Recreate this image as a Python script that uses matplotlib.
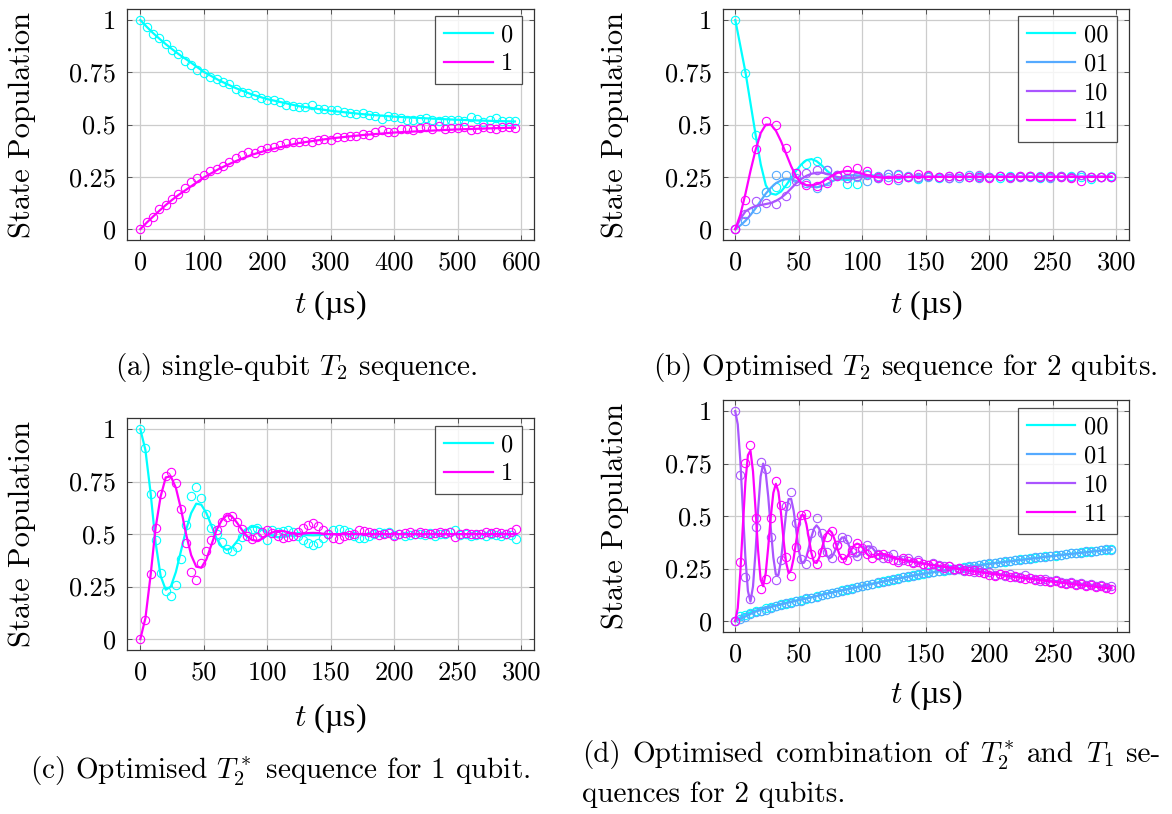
import numpy as np
import matplotlib
matplotlib.use("Agg")
import matplotlib.pyplot as plt

plt.rcParams['font.family'] = ['cmr10', 'Liberation Serif']
plt.rcParams['mathtext.fontset'] = 'cm'
plt.rcParams['axes.formatter.use_mathtext'] = True

# ── panel (a): single-qubit T2 ─────────────────────────────────
a_t = np.arange(0, 600, 10)
a_p0 = [1.0, 0.965, 0.935, 0.912, 0.886, 0.858, 0.836, 0.806, 0.787, 0.763,
        0.748, 0.727, 0.716, 0.703, 0.692, 0.668, 0.657, 0.650, 0.641, 0.628,
        0.620, 0.617, 0.607, 0.596, 0.588, 0.585, 0.584, 0.592, 0.577, 0.574,
        0.571, 0.568, 0.560, 0.556, 0.553, 0.554, 0.548, 0.540, 0.529, 0.542,
        0.538, 0.530, 0.522, 0.523, 0.526, 0.530, 0.520, 0.519, 0.524, 0.521,
        0.522, 0.515, 0.535, 0.525, 0.513, 0.523, 0.530, 0.519, 0.518, 0.517]
a_p1 = [0.0, 0.032, 0.060, 0.095, 0.116, 0.146, 0.170, 0.198, 0.226, 0.243,
        0.258, 0.279, 0.289, 0.302, 0.322, 0.341, 0.355, 0.367, 0.362, 0.378,
        0.386, 0.394, 0.402, 0.410, 0.418, 0.417, 0.421, 0.415, 0.428, 0.433,
        0.426, 0.441, 0.443, 0.447, 0.446, 0.455, 0.452, 0.466, 0.472, 0.463,
        0.463, 0.477, 0.479, 0.476, 0.484, 0.488, 0.481, 0.492, 0.479, 0.484,
        0.486, 0.490, 0.472, 0.480, 0.490, 0.486, 0.477, 0.488, 0.487, 0.484]
a_fit_t = [0, 10, 20, 30, 40, 50, 60, 80, 100, 125, 150, 175, 200, 250, 300,
           350, 400, 450, 500, 550, 590]
a_fit0 = [1.0, 0.968, 0.938, 0.911, 0.885, 0.861, 0.838, 0.796, 0.752, 0.71,
          0.675, 0.645, 0.622, 0.588, 0.566, 0.55, 0.538, 0.53, 0.523, 0.518, 0.515]
a_fit1 = [0.0, 0.031, 0.06, 0.088, 0.115, 0.14, 0.163, 0.205, 0.247, 0.29,
          0.325, 0.355, 0.378, 0.412, 0.434, 0.45, 0.462, 0.47, 0.477, 0.482, 0.485]

# ── panel (b): optimised T2, 2 qubits ──────────────────────────
b_t = np.arange(0, 300, 8)
b_p00 = [1.0, 0.748, 0.45, 0.18, 0.2, 0.22, 0.268, 0.31, 0.325, 0.284,
         0.252, 0.216, 0.216, 0.262, 0.245, 0.262, 0.258, 0.248, 0.242, 0.255,
         0.245, 0.243, 0.252, 0.25, 0.256, 0.248, 0.245, 0.253, 0.25, 0.256,
         0.244, 0.252, 0.25, 0.255, 0.248, 0.24, 0.25, 0.254]
b_p01 = [0.0, 0.037, 0.097, 0.18, 0.257, 0.257, 0.244, 0.22, 0.197, 0.23,
         0.26, 0.244, 0.25, 0.232, 0.255, 0.248, 0.235, 0.252, 0.245, 0.25,
         0.248, 0.255, 0.245, 0.258, 0.246, 0.25, 0.253, 0.247, 0.252, 0.248,
         0.255, 0.246, 0.252, 0.25, 0.258, 0.248, 0.251, 0.247]
b_p10 = [0.0, 0.07, 0.135, 0.125, 0.12, 0.16, 0.228, 0.268, 0.281, 0.281,
         0.257, 0.245, 0.255, 0.26, 0.245, 0.262, 0.265, 0.25, 0.248, 0.255,
         0.25, 0.245, 0.252, 0.25, 0.258, 0.248, 0.252, 0.245, 0.25, 0.255,
         0.25, 0.247, 0.252, 0.25, 0.26, 0.25, 0.248, 0.25]
b_p11 = [0.0, 0.14, 0.385, 0.516, 0.497, 0.388, 0.268, 0.212, 0.204, 0.22,
         0.252, 0.284, 0.292, 0.276, 0.248, 0.236, 0.244, 0.25, 0.262, 0.26,
         0.248, 0.255, 0.252, 0.248, 0.25, 0.245, 0.255, 0.25, 0.252, 0.256,
         0.248, 0.252, 0.25, 0.245, 0.232, 0.25, 0.248, 0.25]
b_fit_t = list(range(0, 128, 4)) + [140, 296]
b_fit00 = [1.0, 0.875, 0.75, 0.6, 0.45, 0.31, 0.21, 0.17, 0.165, 0.18,
           0.21, 0.245, 0.28, 0.31, 0.33, 0.335, 0.325, 0.305, 0.28, 0.26,
           0.245, 0.237, 0.236, 0.24, 0.248, 0.254, 0.257, 0.257, 0.254, 0.251,
           0.249, 0.248, 0.25, 0.25]
b_fit01 = [0.0, 0.018, 0.04, 0.068, 0.1, 0.135, 0.17, 0.198, 0.22, 0.233,
           0.24, 0.238, 0.23, 0.22, 0.21, 0.203, 0.2, 0.205, 0.215, 0.228,
           0.24, 0.25, 0.256, 0.258, 0.257, 0.255, 0.253, 0.251, 0.25, 0.249,
           0.249, 0.25, 0.25, 0.25]
b_fit10 = [0.0, 0.05, 0.085, 0.1, 0.11, 0.115, 0.12, 0.125, 0.135, 0.15,
           0.17, 0.195, 0.22, 0.24, 0.255, 0.265, 0.27, 0.27, 0.265, 0.258,
           0.25, 0.246, 0.244, 0.245, 0.247, 0.25, 0.252, 0.252, 0.251, 0.25,
           0.25, 0.25, 0.25, 0.25]
b_fit11 = [0.0, 0.07, 0.17, 0.28, 0.38, 0.46, 0.5, 0.5, 0.47, 0.42,
           0.36, 0.3, 0.25, 0.22, 0.21, 0.21, 0.215, 0.225, 0.24, 0.255,
           0.268, 0.275, 0.278, 0.277, 0.272, 0.265, 0.258, 0.252, 0.248, 0.246,
           0.246, 0.247, 0.25, 0.25]

# ── panel (c): optimised T2*, 1 qubit ──────────────────────────
c_t = np.arange(0, 300, 4)
c_p0 = [1.0, 0.91, 0.69, 0.47, 0.315, 0.227, 0.203, 0.258, 0.38, 0.545,
        0.683, 0.726, 0.67, 0.594, 0.527, 0.5, 0.463, 0.428, 0.42, 0.44,
        0.487, 0.51, 0.525, 0.53, 0.505, 0.47, 0.52, 0.51, 0.515, 0.52,
        0.51, 0.49, 0.47, 0.46, 0.45, 0.46, 0.48, 0.5, 0.52, 0.525,
        0.52, 0.51, 0.49, 0.48, 0.48, 0.49, 0.5, 0.51, 0.505, 0.51,
        0.495, 0.5, 0.49, 0.495, 0.5, 0.5, 0.495, 0.505, 0.49, 0.5,
        0.5, 0.51, 0.52, 0.495, 0.5, 0.49, 0.495, 0.5, 0.49, 0.5,
        0.495, 0.49, 0.5, 0.495, 0.475]
c_p1 = [0.0, 0.09, 0.31, 0.53, 0.69, 0.775, 0.795, 0.745, 0.62, 0.46,
        0.32, 0.28, 0.36, 0.42, 0.47, 0.52, 0.56, 0.58, 0.585, 0.56,
        0.525, 0.49, 0.475, 0.485, 0.51, 0.52, 0.505, 0.49, 0.48, 0.485,
        0.49, 0.51, 0.53, 0.545, 0.555, 0.54, 0.52, 0.5, 0.48, 0.475,
        0.49, 0.495, 0.5, 0.52, 0.515, 0.51, 0.505, 0.495, 0.5, 0.505,
        0.49, 0.5, 0.505, 0.51, 0.5, 0.51, 0.505, 0.5, 0.505, 0.51,
        0.505, 0.51, 0.485, 0.5, 0.505, 0.5, 0.5, 0.5, 0.51, 0.505,
        0.51, 0.505, 0.5, 0.51, 0.525]
c_fit_t = list(range(0, 152, 4)) + [160, 296]
c_fit0 = [1.0, 0.9, 0.7, 0.46, 0.3, 0.235, 0.25, 0.32, 0.42, 0.52,
          0.6, 0.645, 0.64, 0.6, 0.54, 0.48, 0.44, 0.425, 0.435, 0.465,
          0.5, 0.525, 0.535, 0.535, 0.52, 0.505, 0.492, 0.485, 0.485, 0.49,
          0.497, 0.5, 0.498, 0.495, 0.494, 0.495, 0.498, 0.5, 0.5, 0.5]
c_fit1 = [0.0, 0.1, 0.3, 0.53, 0.68, 0.77, 0.775, 0.72, 0.62, 0.5,
          0.4, 0.345, 0.34, 0.38, 0.45, 0.52, 0.565, 0.59, 0.585, 0.555,
          0.52, 0.49, 0.472, 0.468, 0.478, 0.495, 0.508, 0.515, 0.515, 0.51,
          0.503, 0.5, 0.502, 0.505, 0.506, 0.505, 0.502, 0.5, 0.5, 0.5]

# ── panel (d): T2* + T1, 2 qubits ──────────────────────────────
d_t = np.arange(0, 300, 4)
d_p00 = [0.0, 0.022, 0.03, 0.04, 0.046, 0.05, 0.062, 0.066, 0.07, 0.08,
         0.083, 0.09, 0.094, 0.102, 0.106, 0.112, 0.118, 0.122, 0.13, 0.134,
         0.14, 0.146, 0.15, 0.158, 0.16, 0.166, 0.172, 0.178, 0.182, 0.19,
         0.194, 0.198, 0.205, 0.208, 0.212, 0.218, 0.22, 0.226, 0.232, 0.234,
         0.238, 0.24, 0.246, 0.25, 0.25, 0.256, 0.258, 0.264, 0.266, 0.27,
         0.272, 0.278, 0.282, 0.282, 0.288, 0.29, 0.294, 0.295, 0.3, 0.302,
         0.304, 0.308, 0.31, 0.312, 0.316, 0.318, 0.322, 0.322, 0.328, 0.33,
         0.334, 0.334, 0.34, 0.338, 0.344]
d_p01 = [0.0, 0.008, 0.02, 0.032, 0.042, 0.05, 0.055, 0.064, 0.072, 0.075,
         0.085, 0.088, 0.096, 0.098, 0.108, 0.11, 0.116, 0.125, 0.128, 0.132,
         0.138, 0.144, 0.152, 0.155, 0.162, 0.168, 0.17, 0.176, 0.184, 0.188,
         0.192, 0.2, 0.202, 0.21, 0.214, 0.216, 0.224, 0.228, 0.23, 0.236,
         0.24, 0.244, 0.244, 0.25, 0.254, 0.254, 0.26, 0.262, 0.268, 0.27,
         0.276, 0.276, 0.28, 0.286, 0.286, 0.29, 0.292, 0.298, 0.298, 0.304,
         0.306, 0.306, 0.312, 0.314, 0.314, 0.32, 0.324, 0.326, 0.326, 0.332,
         0.33, 0.336, 0.338, 0.342, 0.34]
d_p10 = [1.0, 0.694, 0.208, 0.103, 0.448, 0.76, 0.725, 0.40, 0.195, 0.293,
         0.547, 0.615, 0.465, 0.298, 0.27, 0.42, 0.49, 0.42, 0.33, 0.3,
         0.36, 0.4, 0.39, 0.33, 0.31, 0.34, 0.36, 0.34, 0.32, 0.3,
         0.31, 0.32, 0.29, 0.29, 0.3, 0.28, 0.29, 0.27, 0.265, 0.275,
         0.265, 0.26, 0.26, 0.245, 0.25, 0.24, 0.25, 0.235, 0.245, 0.23,
         0.235, 0.22, 0.225, 0.215, 0.225, 0.21, 0.21, 0.22, 0.205, 0.2,
         0.19, 0.2, 0.19, 0.195, 0.185, 0.18, 0.185, 0.175, 0.18, 0.17,
         0.175, 0.165, 0.17, 0.16, 0.168]
d_p11 = [0.0, 0.282, 0.754, 0.837, 0.489, 0.155, 0.2, 0.489, 0.667, 0.552,
         0.306, 0.214, 0.353, 0.504, 0.509, 0.32, 0.27, 0.33, 0.4, 0.43,
         0.36, 0.3, 0.29, 0.34, 0.37, 0.35, 0.32, 0.3, 0.315, 0.32,
         0.3, 0.29, 0.28, 0.3, 0.285, 0.275, 0.28, 0.27, 0.265, 0.27,
         0.26, 0.255, 0.26, 0.25, 0.255, 0.245, 0.24, 0.245, 0.235, 0.23,
         0.22, 0.215, 0.225, 0.22, 0.21, 0.215, 0.205, 0.2, 0.205, 0.195,
         0.2, 0.19, 0.185, 0.19, 0.18, 0.175, 0.18, 0.17, 0.175, 0.165,
         0.17, 0.16, 0.165, 0.158, 0.152]
d_fit_lo_t = [0, 4, 8, 12, 16, 24, 32, 40, 50, 60, 75, 100, 125, 150, 175,
              200, 225, 250, 275, 296]
d_fit00 = [0.0, 0.018, 0.032, 0.042, 0.05, 0.064, 0.076, 0.088, 0.1, 0.114,
           0.136, 0.168, 0.2, 0.228, 0.252, 0.274, 0.293, 0.311, 0.328, 0.342]
d_fit01 = [0.0, 0.01, 0.022, 0.034, 0.045, 0.06, 0.073, 0.085, 0.1, 0.113,
           0.134, 0.167, 0.199, 0.227, 0.25, 0.272, 0.291, 0.31, 0.327, 0.341]
d_fit_hi_t = list(range(0, 116, 2)) + [118, 125, 150, 175, 200, 225, 250, 275, 296]
d_fit10 = [1.0, 0.937, 0.767, 0.534, 0.305, 0.143, 0.093, 0.165, 0.331, 0.53,
           0.689, 0.75, 0.707, 0.592, 0.442, 0.303, 0.221, 0.219, 0.288, 0.4,
           0.512, 0.581, 0.582, 0.525, 0.432, 0.339, 0.282, 0.278, 0.305, 0.352,
           0.402, 0.441, 0.456, 0.441, 0.401, 0.352, 0.313, 0.298, 0.306, 0.328,
           0.356, 0.382, 0.398, 0.398, 0.381, 0.353, 0.325, 0.308, 0.307, 0.316,
           0.331, 0.346, 0.356, 0.356, 0.348, 0.333, 0.318, 0.311,
           0.312, 0.3, 0.273, 0.251, 0.23, 0.21, 0.192, 0.176, 0.164]
d_fit11 = [0.0, 0.062, 0.23, 0.45, 0.66, 0.79, 0.812, 0.713, 0.532, 0.336,
           0.198, 0.166, 0.228, 0.354, 0.498, 0.611, 0.654, 0.616, 0.516, 0.389,
           0.28, 0.229, 0.243, 0.30, 0.381, 0.458, 0.504, 0.504, 0.461, 0.392,
           0.323, 0.28, 0.277, 0.301, 0.342, 0.386, 0.42, 0.433, 0.422, 0.392,
           0.353, 0.317, 0.296, 0.295, 0.306, 0.326, 0.347, 0.363, 0.369, 0.364,
           0.351, 0.333, 0.317, 0.307, 0.306, 0.31, 0.316, 0.321,
           0.318, 0.3, 0.271, 0.249, 0.226, 0.206, 0.187, 0.169, 0.155]

cool = plt.cm.cool(np.linspace(0, 1, 4))
C2 = [cool[0], cool[3]]

W, H = 1172, 814
fig = plt.figure(figsize=(W / 100, H / 100), dpi=100)


def px_axes(l, t, r, b):
    return fig.add_axes([l / W, 1 - b / H, (r - l) / W, (b - t) / H])


def style(ax, xlim, xticks, xlab_y, ylab_x):
    ax.set_xlim(*xlim)
    ax.set_ylim(-0.052, 1.053)
    ax.set_xticks(xticks)
    ax.set_xticklabels([str(x) for x in xticks])
    ax.set_yticks([0, 0.25, 0.5, 0.75, 1])
    ax.set_yticklabels(['0', '0.25', '0.5', '0.75', '1'])
    ax.grid(color='#cccccc', linewidth=0.9)
    ax.set_axisbelow(True)
    ax.tick_params(direction='in', top=True, right=True, length=3.5,
                   width=0.7, color='#555555', labelsize=19)
    ax.tick_params(axis='y', pad=8)
    ax.tick_params(axis='x', pad=8)
    for s in ax.spines.values():
        s.set_color('#333333')
        s.set_linewidth(0.9)
    ax.set_xlabel(r'$t$ (µs)', fontsize=23, family='Liberation Serif')
    ax.xaxis.label.set_va('center')
    ax.xaxis.set_label_coords(0.5, xlab_y)
    ax.set_ylabel('State Population', fontsize=22)
    ax.yaxis.label.set_va('center')
    ax.yaxis.set_label_coords(ylab_x, 0.5)


def series(ax, t, y, ft, fy, col, lab):
    ax.plot(ft, fy, color=col, lw=1.6, label=lab, zorder=3)
    ax.plot(t, y, 'o', ms=6, mfc='none', mec=col, mew=0.8, zorder=3)


def legend(ax, top):
    leg = ax.legend(loc='upper right', bbox_to_anchor=(0.97, top),
                    borderaxespad=0, fontsize=17.5, handlelength=2.0,
                    handletextpad=0.35, labelspacing=0.28, borderpad=0.35,
                    frameon=True, fancybox=False, edgecolor='#222222')
    leg.get_frame().set_linewidth(0.9)


# (a)
ax = px_axes(127, 9, 534, 240)
series(ax, a_t, a_p0, a_fit_t, a_fit0, C2[0], '0')
series(ax, a_t, a_p1, a_fit_t, a_fit1, C2[1], '1')
style(ax, (-21, 620), [0, 100, 200, 300, 400, 500, 600], -0.28, -0.258)
legend(ax, 0.97)

# (b)
ax = px_axes(723, 9, 1129, 240)
for y, fy, col, lab in [(b_p00, b_fit00, cool[0], '00'), (b_p01, b_fit01, cool[1], '01'),
                        (b_p10, b_fit10, cool[2], '10'), (b_p11, b_fit11, cool[3], '11')]:
    series(ax, b_t, y, b_fit_t, fy, col, lab)
style(ax, (-9.7, 309.9), [0, 50, 100, 150, 200, 250, 300], -0.28, -0.265)
legend(ax, 0.97)

# (c)
ax = px_axes(127, 418, 534, 650)
series(ax, c_t, c_p0, c_fit_t, c_fit0, C2[0], '0')
series(ax, c_t, c_p1, c_fit_t, c_fit1, C2[1], '1')
style(ax, (-10.5, 309.9), [0, 50, 100, 150, 200, 250, 300], -0.293, -0.258)
legend(ax, 0.966)

# (d)
ax = px_axes(723, 400, 1129, 632)
series(ax, d_t, d_p00, d_fit_lo_t, d_fit00, cool[0], '00')
series(ax, d_t, d_p01, d_fit_lo_t, d_fit01, cool[1], '01')
series(ax, d_t, d_p10, d_fit_hi_t, d_fit10, cool[2], '10')
series(ax, d_t, d_p11, d_fit_hi_t, d_fit11, cool[3], '11')
style(ax, (-9.6, 309.8), [0, 50, 100, 150, 200, 250, 300], -0.273, -0.265)
legend(ax, 0.965)

# captions
cap = dict(fontsize=21, va='baseline')
fig.text(296 / W, 1 - 375 / H, r'(a) single-qubit $T_2$ sequence.', ha='center', **cap)
fig.text(905 / W, 1 - 375 / H, r'(b) Optimised $T_2$ sequence for 2 qubits.', ha='center', **cap)
fig.text(280 / W, 1 - 779 / H, r'(c) Optimised $T_2^*$ sequence for 1 qubit.', ha='center', **cap)

# (d) caption: first line justified between x=582 and x=1160
words = ['(d)', 'Optimised', 'combination', 'of', r'$T_2^*$', 'and', r'$T_1$', 'se-']
renderer = fig.canvas.get_renderer()
texts = [fig.text(0, 1 - 762 / H, w, ha='left', **cap) for w in words]
widths = [t.get_window_extent(renderer).width for t in texts]
gap = (1160 - 582 - sum(widths)) / (len(words) - 1)
x = 582
for t, w in zip(texts, widths):
    t.set_x(x / W)
    x += w + gap
fig.text(582 / W, 1 - 802 / H, r'quences for 2 qubits.', ha='left', **cap)

fig.savefig('out.png', dpi=100)
